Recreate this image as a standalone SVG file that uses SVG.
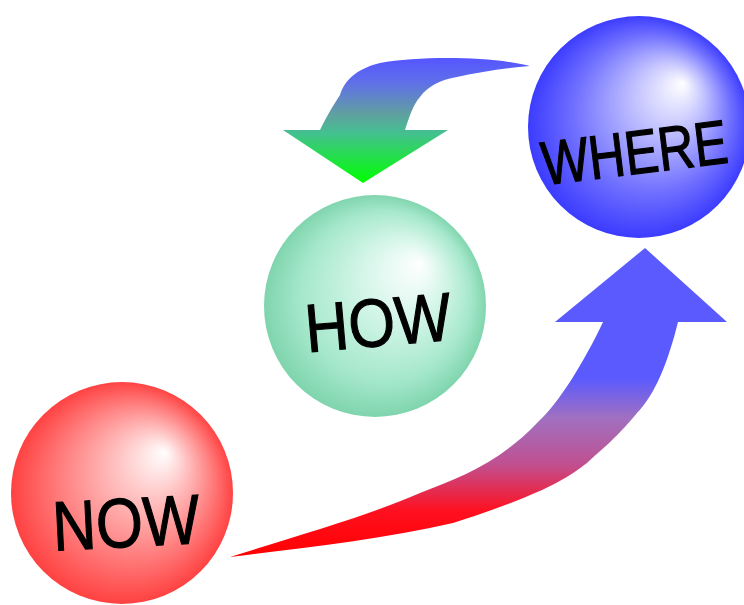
<svg xmlns="http://www.w3.org/2000/svg" width="744" height="605" viewBox="0 0 744 605">
<defs>
<radialGradient id="gRed" cx="122" cy="493" r="112" fx="165" fy="452" gradientUnits="userSpaceOnUse">
<stop offset="0" stop-color="#ffffff"/>
<stop offset="0.3" stop-color="#ffc4c4"/>
<stop offset="0.7" stop-color="#ff7a7a"/>
<stop offset="1" stop-color="#ff4040"/>
</radialGradient>
<radialGradient id="gGreen" cx="375" cy="306" r="112" fx="420" fy="263" gradientUnits="userSpaceOnUse">
<stop offset="0" stop-color="#ffffff"/>
<stop offset="0.35" stop-color="#d6f6ea"/>
<stop offset="0.75" stop-color="#a6e8cc"/>
<stop offset="1" stop-color="#7ed4ac"/>
</radialGradient>
<radialGradient id="gBlue" cx="639" cy="127" r="112" fx="683" fy="83" gradientUnits="userSpaceOnUse">
<stop offset="0" stop-color="#ffffff"/>
<stop offset="0.3" stop-color="#c4c4ff"/>
<stop offset="0.7" stop-color="#7070ff"/>
<stop offset="1" stop-color="#3a3aff"/>
</radialGradient>
<linearGradient id="gUp" x1="0" y1="248" x2="0" y2="557" gradientUnits="userSpaceOnUse">
<stop offset="0" stop-color="#5a5aff"/>
<stop offset="0.42" stop-color="#5a5aff"/>
<stop offset="0.55" stop-color="#a070c0"/>
<stop offset="0.7" stop-color="#c05090"/>
<stop offset="0.85" stop-color="#ff1020"/>
<stop offset="1" stop-color="#ff0000"/>
</linearGradient>
<linearGradient id="gDown" x1="0" y1="58" x2="0" y2="183" gradientUnits="userSpaceOnUse">
<stop offset="0" stop-color="#5555ff"/>
<stop offset="0.2" stop-color="#6070e8"/>
<stop offset="0.45" stop-color="#60a0a0"/>
<stop offset="0.6" stop-color="#44c090"/>
<stop offset="1" stop-color="#00ff00"/>
</linearGradient>
</defs>
<style>
.lbl{font-family:"Liberation Sans",Arial,sans-serif;fill:#000;stroke:#000;stroke-width:1.2;}
</style>
<g id="connectors">
<path id="arrow-now-where" fill="url(#gUp)" d="M230,557 C300,535 370,515 420,493 C460,478 500,462 537,423 C560,402 585,360 603,322 L555,322 L645,248 L727,322 L678,322 C668,362 655,395 637,413 C615,440 595,455 587,463 C565,480 540,495 453,523 C380,540 300,548 230,557 Z"/>
<path id="arrow-where-how" fill="url(#gDown)" d="M530,66 C490,56 420,56 380,63 C360,68 345,78 340,95 C330,110 325,120 320,130 L283,130 L363,183 L448,130 L405,130 C410,115 413,105 420,97 C428,86 440,80 457,77 C480,72 505,68 530,66 Z"/>
</g>
<g id="node-now">
<circle cx="122" cy="493" r="111" fill="url(#gRed)"/>
<text class="lbl" x="0" y="25" font-size="70" text-anchor="middle" transform="translate(126 522) rotate(-3) scale(0.86 1)">NOW</text>
</g>
<g id="node-how">
<circle cx="375" cy="306" r="111" fill="url(#gGreen)"/>
<text class="lbl" x="0" y="25" font-size="68" text-anchor="middle" transform="translate(378 321) rotate(-5) scale(0.88 1)">HOW</text>
</g>
<g id="node-where">
<circle cx="639" cy="127" r="111" fill="url(#gBlue)"/>
<text class="lbl" x="0" y="24" font-size="62" text-anchor="middle" transform="translate(634 150) rotate(-7) scale(0.81 1)">WHERE</text>
</g>
</svg>
